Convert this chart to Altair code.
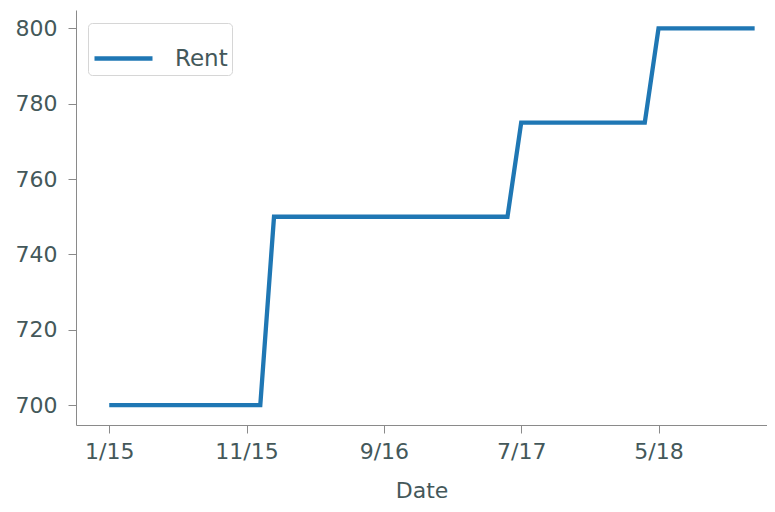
import json
import altair as alt
import pandas as pd

dates = [
    "1/15", "2/15", "3/15", "4/15", "5/15", "6/15", "7/15", "8/15", "9/15", "10/15", "11/15", "12/15",
    "1/16", "2/16", "3/16", "4/16", "5/16", "6/16", "7/16", "8/16", "9/16", "10/16", "11/16", "12/16",
    "1/17", "2/17", "3/17", "4/17", "5/17", "6/17", "7/17", "8/17", "9/17", "10/17", "11/17", "12/17",
    "1/18", "2/18", "3/18", "4/18", "5/18", "6/18", "7/18", "8/18", "9/18", "10/18", "11/18", "12/18",
]
rent = [
    700, 700, 700, 700, 700, 700, 700, 700, 700, 700, 700, 700,
    750, 750, 750, 750, 750, 750, 750, 750, 750, 750, 750, 750,
    750, 750, 750, 750, 750, 750, 775, 775, 775, 775, 775, 775,
    775, 775, 775, 775, 800, 800, 800, 800, 800, 800, 800, 800,
]
tick_labels = ["1/15", "11/15", "9/16", "7/17", "5/18"]
y_ticks = [700, 720, 740, 760, 780, 800]

df = pd.DataFrame({"idx": list(range(len(dates))), "Date": dates, "value": rent, "series": ["Rent"] * len(dates)})
tick_idx = [dates.index(t) for t in tick_labels]

text_color = "#44585a"
FONT = "DejaVu Sans"

chart = alt.Chart(df).mark_line(strokeWidth=4.3, strokeJoin="miter").encode(
    x=alt.X("idx:Q", title="Date",
            scale=alt.Scale(domain=[-2.42, 47.9], nice=False, zero=False),
            axis=alt.Axis(values=tick_idx, labelExpr=f"{json.dumps(dates)}[datum.value]",
                          labelPadding=8, titlePadding=18)),
    y=alt.Y("value:Q", title=None,
            scale=alt.Scale(domain=[694.7, 804.9], nice=False, zero=False),
            axis=alt.Axis(values=y_ticks, labelPadding=11)),
    color=alt.Color("series:N", title=None,
                    scale=alt.Scale(domain=["Rent"], range=["#1f77b4"]),
                    legend=alt.Legend(orient="none", legendX=12, legendY=13)),
).properties(
    width=691, height=415,
    autosize=alt.AutoSizeParams(type="none"),
    padding={"left": 68, "top": 2, "right": 0, "bottom": 79},
).configure_view(stroke=None).configure_axis(
    grid=False,
    domainColor="#8a8a8a",
    tickColor="#8a8a8a",
    tickSize=8,
    labelFont=FONT,
    labelFontSize=22,
    labelColor=text_color,
    titleFont=FONT,
    titleFontSize=22,
    titleFontWeight="normal",
    titleColor=text_color,
).configure_legend(
    symbolType="stroke",
    symbolSize=3364,
    symbolStrokeWidth=4.3,
    labelFont=FONT,
    labelFontSize=23,
    labelColor=text_color,
    labelOffset=20,
    padding=4,
    strokeColor="#d6d6d6",
    fillColor="white",
    cornerRadius=4,
)

chart.save("out.html", embed_options={"renderer": "svg", "actions": False})
